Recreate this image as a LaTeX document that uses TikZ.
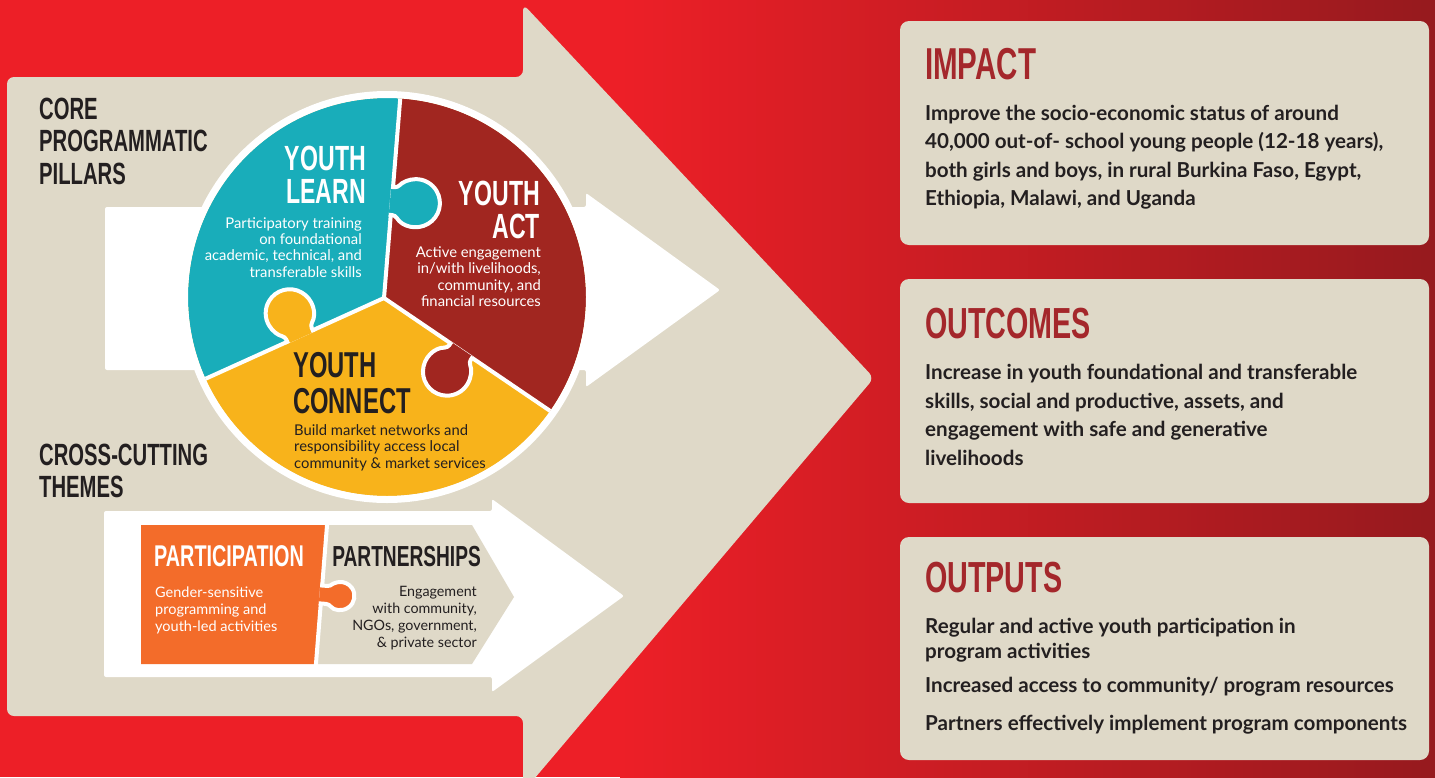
\documentclass[tikz,border=0pt]{standalone}
\usepackage{fontspec}
\setmainfont{Lato}
\newfontfamily\hfont[FakeStretch=0.66]{Liberation Sans}
\definecolor{bgred}{HTML}{ED1F27}
\definecolor{bgdark}{HTML}{961A1E}
\definecolor{beige}{HTML}{DFD9C8}
\definecolor{ylteal}{HTML}{19ADBA}
\definecolor{ylred}{HTML}{A12620}
\definecolor{ylyellow}{HTML}{F8B31B}
\definecolor{ylorange}{HTML}{F36C2A}
\definecolor{headred}{HTML}{A4272B}
\definecolor{ink}{HTML}{231F20}
\tikzset{
  hd/.style n args={2}{inner sep=0pt, font=\hfont\bfseries\fontsize{#1}{#2}\selectfont},
  bd/.style n args={2}{inner sep=0pt, font=\fontsize{#1}{#2}\selectfont},
  bb/.style n args={2}{inner sep=0pt, font=\bfseries\fontsize{#1}{#2}\selectfont},
  sep/.style={white, line width=4pt},
}
\newcommand\puztab[6]{%
  \begin{scope}[shift={#1},rotate=#2]
    \pgfmathsetmacro\ptyo{#3-sqrt((#4)*(#4)-(#5)*(#5))}
    \pgfmathsetmacro\pta{atan2(sqrt((#4)*(#4)-(#5)*(#5)),#5)}
    \draw[sep, fill=#6, rounded corners=3pt] (-#5,-2) -- (-#5,\ptyo) arc[start angle=180+\pta, end angle=-\pta, radius=#4] -- (#5,-2);
  \end{scope}}
\begin{document}
\begin{tikzpicture}[x=1pt,y=1pt,yscale=-1]
\useasboundingbox (0,0) rectangle (1435,777);
% background
\fill[bgred] (0,0) rectangle (1435,777);
\shade[left color=bgred, right color=bgdark] (620,0) rectangle (1435,777);
% big beige arrow
\fill[beige, rounded corners=7pt] (7,77) -- (523,77) -- (523,4) -- (874,378) -- (523,792) -- (523,716) -- (7,716) -- cycle;
% white arrows
\fill[white, rounded corners=2pt] (105,207) -- (586,207) -- (586,193) -- (720,290) -- (586,387) -- (586,370) -- (105,370) -- cycle;
\fill[white, rounded corners=2pt] (104,511) -- (492,511) -- (492,499) -- (624,596) -- (492,692) -- (492,677) -- (104,677) -- cycle;
% puzzle circle
\begin{scope}
  \clip (387,297) circle (199);
  \fill[ylyellow] (180,90) rectangle (600,510);
  \fill[ylteal] (405,40) -- (384,298) -- (110,422) -- (100,40) -- cycle;
  \fill[ylred] (405,40) -- (384,298) -- (640,472) -- (640,40) -- cycle;
  \draw[sep] (405,40) -- (384,298) -- (110,422);
  \draw[sep] (384,298) -- (640,472);
  \puztab{(392,201)}{-84.9}{24}{24}{14}{ylteal}
  \puztab{(300,336)}{155.6}{25}{24}{14}{ylyellow}
  \puztab{(461,351)}{34.2}{25}{24}{13}{ylred}
\end{scope}
\draw[white, line width=7pt] (387,297) circle (202.5);
% cross-cutting pieces
\fill[ylorange] (141,525) -- (327,525) -- (316,664) -- (141,664) -- cycle;
\fill[beige] (327,525) -- (472,525) -- (514,597) -- (472,664) -- (316,664) -- cycle;
\draw[sep] (327.2,523) -- (315.8,666);
\puztab{(321.5,594.5)}{-85.5}{19}{14}{9}{ylorange}
% right boxes
\fill[beige, rounded corners=9pt] (900,21) rectangle (1429,245);
\fill[beige, rounded corners=9pt] (900,279) rectangle (1429,503);
\fill[beige, rounded corners=9pt] (900,537) rectangle (1429,760);
% left labels (anchor = baseline of last line)
\node[hd={30.7}{32.5}, text=ink, anchor=base west, align=left] (core) at (39,184) {CORE\\PROGRAMMATIC\\PILLARS};
\node[hd={30.7}{32}, text=ink, anchor=base west, align=left] (cross) at (39,497) {CROSS-CUTTING\\THEMES};
% circle texts
\node[hd={35}{33.5}, text=white, anchor=base east, align=right] (learnh) at (366,203.5) {YOUTH\\LEARN};
\node[bd={14.8}{16.4}, text=white, anchor=base east, align=right] (learnt) at (362,277.2) {Participatory training\\on foundational\\academic, technical, and\\transferable skills};
\node[hd={35}{33}, text=white, anchor=base east, align=right] (acth) at (540,238) {YOUTH\\ACT};
\node[bd={14.8}{16.6}, text=white, anchor=base east, align=right] (actt) at (541,306.8) {Active engagement\\in/with livelihoods,\\community, and\\financial resources};
\node[hd={36}{36.5}, text=ink, anchor=base west, align=left] (conh) at (293,413.5) {YOUTH\\CONNECT};
\node[bd={14.8}{16.5}, text=ink, anchor=base west, align=left] (cont) at (294,468) {Build market networks and\\responsibility access local\\community \& market services};
% cross-cutting texts
\node[hd={30}{30}, text=white, anchor=base west] (parth) at (154,566) {PARTICIPATION};
\node[hd={29}{29}, text=ink, anchor=base east] (pnsh) at (481,566) {PARTNERSHIPS};
\node[bd={14.5}{17}, text=white, anchor=base west, align=left] (partt) at (155,631) {Gender-sensitive\\programming and\\youth-led activities};
\node[bd={14.3}{16.7}, text=ink, anchor=base east, align=right] (pnst) at (477,647) {Engagement\\with community,\\NGOs, government,\\\& private sector};
% right box texts
\node[hd={44.7}{44.7}, text=headred, anchor=base west] (imph) at (925,79) {IMPACT};
\node[bb={20.6}{28.5}, text=ink, anchor=base west, align=left] (impt) at (925,205.5) {Improve the socio-economic status of around\\40,000 out-of- school young people (12-18 years),\\both girls and boys, in rural Burkina Faso, Egypt,\\Ethiopia, Malawi, and Uganda};
\node[hd={43.5}{43.5}, text=headred, anchor=base west] (outch) at (925,338) {OUTCOMES};
\node[bb={20.6}{28.6}, text=ink, anchor=base west, align=left] (outct) at (925,465.3) {Increase in youth foundational and transferable\\skills, social and productive, assets, and\\engagement with safe and generative\\livelihoods};
\node[hd={43.5}{43.5}, text=headred, anchor=base west] (outph) at (925,592) {OUTPUTS};
\node[bb={20.6}{25}, text=ink, anchor=base west, align=left] (outp1) at (925,658) {Regular and active youth participation in\\program activities};
\node[bb={20.6}{25}, text=ink, anchor=base west] (outp2) at (925,692) {Increased access to community/ program resources};
\node[bb={20.6}{25}, text=ink, anchor=base west] (outp3) at (925,730) {Partners effectively implement program components};
\end{tikzpicture}
\end{document}
